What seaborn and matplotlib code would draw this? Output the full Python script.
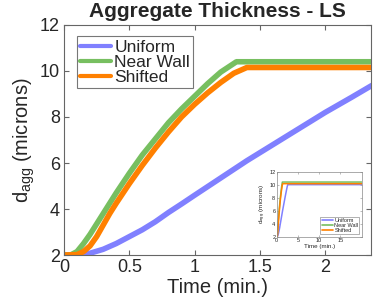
import numpy as np
import pandas as pd
import matplotlib.pyplot as plt
import seaborn as sns

# Aggregate thickness (microns) vs time (min.) for three release profiles
time_uniform = [0, 0.1, 0.2, 0.3, 0.4, 0.5, 0.6, 0.7, 0.8, 0.9, 1.0, 1.2, 1.4,
                1.6, 1.8, 2.0, 2.2, 2.35, 2.5, 2.6, 20]
d_uniform = [2.0, 2.0, 2.08, 2.25, 2.5, 2.8, 3.1, 3.45, 3.85, 4.22, 4.6, 5.35, 6.1,
             6.8, 7.5, 8.2, 8.85, 9.35, 9.8, 10.0, 10.0]

time_near_wall = [0, 0.05, 0.1, 0.15, 0.2, 0.25, 0.3, 0.35, 0.4, 0.5, 0.6, 0.7,
                  0.8, 0.9, 1.0, 1.1, 1.2, 1.32, 20]
d_near_wall = [2.0, 2.0, 2.15, 2.5, 2.9, 3.35, 3.8, 4.25, 4.7, 5.55, 6.35, 7.05,
               7.75, 8.35, 8.9, 9.45, 9.95, 10.4, 10.4]

time_shifted = [0, 0.1, 0.15, 0.2, 0.25, 0.3, 0.35, 0.4, 0.5, 0.6, 0.7, 0.8, 0.9,
                1.0, 1.1, 1.2, 1.3, 1.4, 20]
d_shifted = [2.0, 2.02, 2.15, 2.4, 2.8, 3.3, 3.8, 4.25, 5.1, 5.9, 6.65, 7.35, 8.0,
             8.55, 9.05, 9.5, 9.9, 10.15, 10.15]

labels = ['Uniform', 'Near Wall', 'Shifted']
colors = ['#8080ff', '#77bf60', '#ff8000']

frames = []
for name, t, d in zip(labels, [time_uniform, time_near_wall, time_shifted],
                      [d_uniform, d_near_wall, d_shifted]):
    frames.append(pd.DataFrame({'Time': t, 'd': d, 'Profile': name}))
data = pd.concat(frames, ignore_index=True)

sns.set_theme(style="ticks")
plt.rcParams['font.family'] = ['Liberation Sans', 'DejaVu Sans']
plt.rcParams['mathtext.fontset'] = 'custom'
plt.rcParams['mathtext.rm'] = 'Liberation Sans'
plt.rcParams['mathtext.it'] = 'Liberation Sans'

fig = plt.figure(figsize=(3.74, 3.04), dpi=100)
ax = fig.add_axes([0.171, 0.161, 0.821, 0.757])

sns.lineplot(data=data, x='Time', y='d', hue='Profile', palette=colors,
             hue_order=labels, estimator=None, sort=False, lw=4, legend=False, ax=ax)

ax.set_xlim(0, 2.35)
ax.set_ylim(2, 12)
ax.set_xticks([0, 0.5, 1, 1.5, 2])
ax.set_xticklabels(['0', '0.5', '1', '1.5', '2'])
ax.set_yticks([2, 4, 6, 8, 10, 12])
ax.tick_params(direction='in', length=3.5, width=0.8, color='#666666',
               labelsize=13, top=True, right=True, pad=3)
for s in ax.spines.values():
    s.set_color('#666666')
    s.set_linewidth(0.8)
ax.set_xlabel('Time (min.)', fontsize=14.5, labelpad=1)
ax.set_ylabel(r'$\mathregular{d_{agg}}$ (microns)', fontsize=14.5, labelpad=2)
ax.set_title('Aggregate Thickness - LS', fontsize=15, fontweight='bold', pad=6)

leg = ax.legend(handles=ax.lines[:3], labels=labels, loc='upper left',
                bbox_to_anchor=(0.042, 0.952), borderaxespad=0, fontsize=12.5,
                frameon=True, fancybox=False, handlelength=1.75, handletextpad=0.2,
                borderpad=0.2, labelspacing=0.0)
leg.get_frame().set_edgecolor('#555555')
leg.get_frame().set_linewidth(0.8)
for ln in leg.get_lines():
    ln.set_linewidth(3)

# inset: full run
ins = fig.add_axes([0.740, 0.2214, 0.227, 0.214])
sns.lineplot(data=data, x='Time', y='d', hue='Profile', palette=colors,
             hue_order=labels, estimator=None, sort=False, lw=1.1, legend=False, ax=ins)
ins.set_xlim(0, 20)
ins.set_ylim(2, 12)
ins.set_xticks([0, 5, 10, 15])
ins.set_yticks([2, 4, 6, 8, 10, 12])
ins.tick_params(direction='in', length=1.2, width=0.4, color='#888888',
                labelsize=4, top=True, right=True, pad=1)
for s in ins.spines.values():
    s.set_color('#888888')
    s.set_linewidth(0.5)
ins.set_xlabel('Time (min.)', fontsize=4.5, labelpad=0.5)
ins.set_ylabel(r'$\mathregular{d_{agg}}$ (microns)', fontsize=4.5, labelpad=0.5)
ileg = ins.legend(handles=ins.lines[:3], labels=labels, loc='lower right',
                  fontsize=4, frameon=True, fancybox=False, handlelength=2.0,
                  handletextpad=0.3, borderpad=0.2, labelspacing=0.0,
                  borderaxespad=0.4)
ileg.get_frame().set_edgecolor('#555555')
ileg.get_frame().set_linewidth(0.4)
for ln in ileg.get_lines():
    ln.set_linewidth(1.2)

fig.savefig('out.png', dpi=100)
